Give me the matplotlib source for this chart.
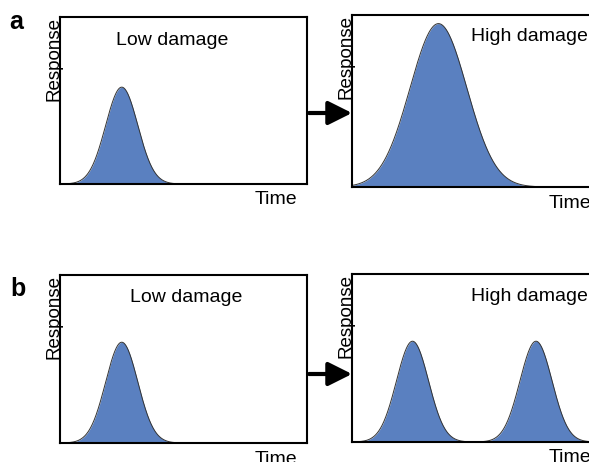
import numpy as np
import matplotlib
matplotlib.use("Agg")
import matplotlib.pyplot as plt

plt.rcParams['font.family'] = ['Liberation Sans', 'DejaVu Sans']

# peak parameters per panel: centre (time units 0-10), height (0-1), width (sigma)
a_low_centres = [2.5]
a_low_heights = [0.58]
a_low_widths = [0.65]

a_high_centres = [3.5]
a_high_heights = [0.95]
a_high_widths = [1.15]

b_low_centres = [2.5]
b_low_heights = [0.60]
b_low_widths = [0.65]

b_high_centres = [2.45, 7.45]
b_high_heights = [0.60, 0.60]
b_high_widths = [0.65, 0.65]

titles = ["Low damage", "High damage", "Low damage", "High damage"]
panel_letters = ["a", "b"]

fill_col = '#5a80c0'

W, H = 589, 462
fig = plt.figure(figsize=(W / 100, H / 100), dpi=100)

def px_axes(left, top, right, bottom):
  return fig.add_axes([left / W, 1 - bottom / H, (right - left) / W, (bottom - top) / H])

def draw_panel(ax, centres, heights, widths, title, tx, ty):
  t = np.linspace(0, 10, 800)
  r = np.zeros_like(t)
  for c, h, s in zip(centres, heights, widths):
    r += h * np.exp(-0.5 * ((t - c) / s) ** 2)
  ax.fill_between(t, 0, r, color=fill_col, lw=0)
  ax.plot(t, r, color='#333333', lw=0.7)
  ax.set_xlim(0, 10)
  ax.set_ylim(0, 1)
  ax.set_xticks([])
  ax.set_yticks([])
  for sp in ax.spines.values():
    sp.set_linewidth(1.5)
  ax.text(tx, ty, title, transform=ax.transAxes, fontsize=14, ha='center', va='center')

boxes = [(60, 17, 307, 184), (352, 15, 599, 187), (60, 275, 307, 443), (352, 274, 599, 442)]
axes = [px_axes(*b) for b in boxes]

draw_panel(axes[0], a_low_centres, a_low_heights, a_low_widths, titles[0], 0.455, 0.86)
draw_panel(axes[1], a_high_centres, a_high_heights, a_high_widths, titles[1], 0.72, 0.875)
draw_panel(axes[2], b_low_centres, b_low_heights, b_low_widths, titles[2], 0.51, 0.865)
draw_panel(axes[3], b_high_centres, b_high_heights, b_high_widths, titles[3], 0.72, 0.865)

# axis labels
for (l, tp, r, b) in boxes:
  fig.text((l - 6) / W, 1 - tp / H, "Response", rotation=90, fontsize=13.5,
           ha='center', va='top')
  fig.text(297 / W if l < 300 else 591 / W, 1 - (b + 16) / H, "Time", fontsize=14,
           ha='right', va='center')

# panel letters
fig.text(9 / W, 1 - 22 / H, panel_letters[0], fontsize=18, fontweight='bold', va='center')
fig.text(10 / W, 1 - 289 / H, panel_letters[1], fontsize=18, fontweight='bold', va='center')

# arrows between panels
for y in [113, 374]:
  fig.axes[0].annotate('', xy=(352, H - y), xytext=(309, H - y), xycoords='figure pixels',
                       textcoords='figure pixels',
                       arrowprops=dict(arrowstyle='-|>', lw=3, mutation_scale=36,
                                       color='black', shrinkA=0, shrinkB=0))

fig.savefig("out.png", dpi=100)
